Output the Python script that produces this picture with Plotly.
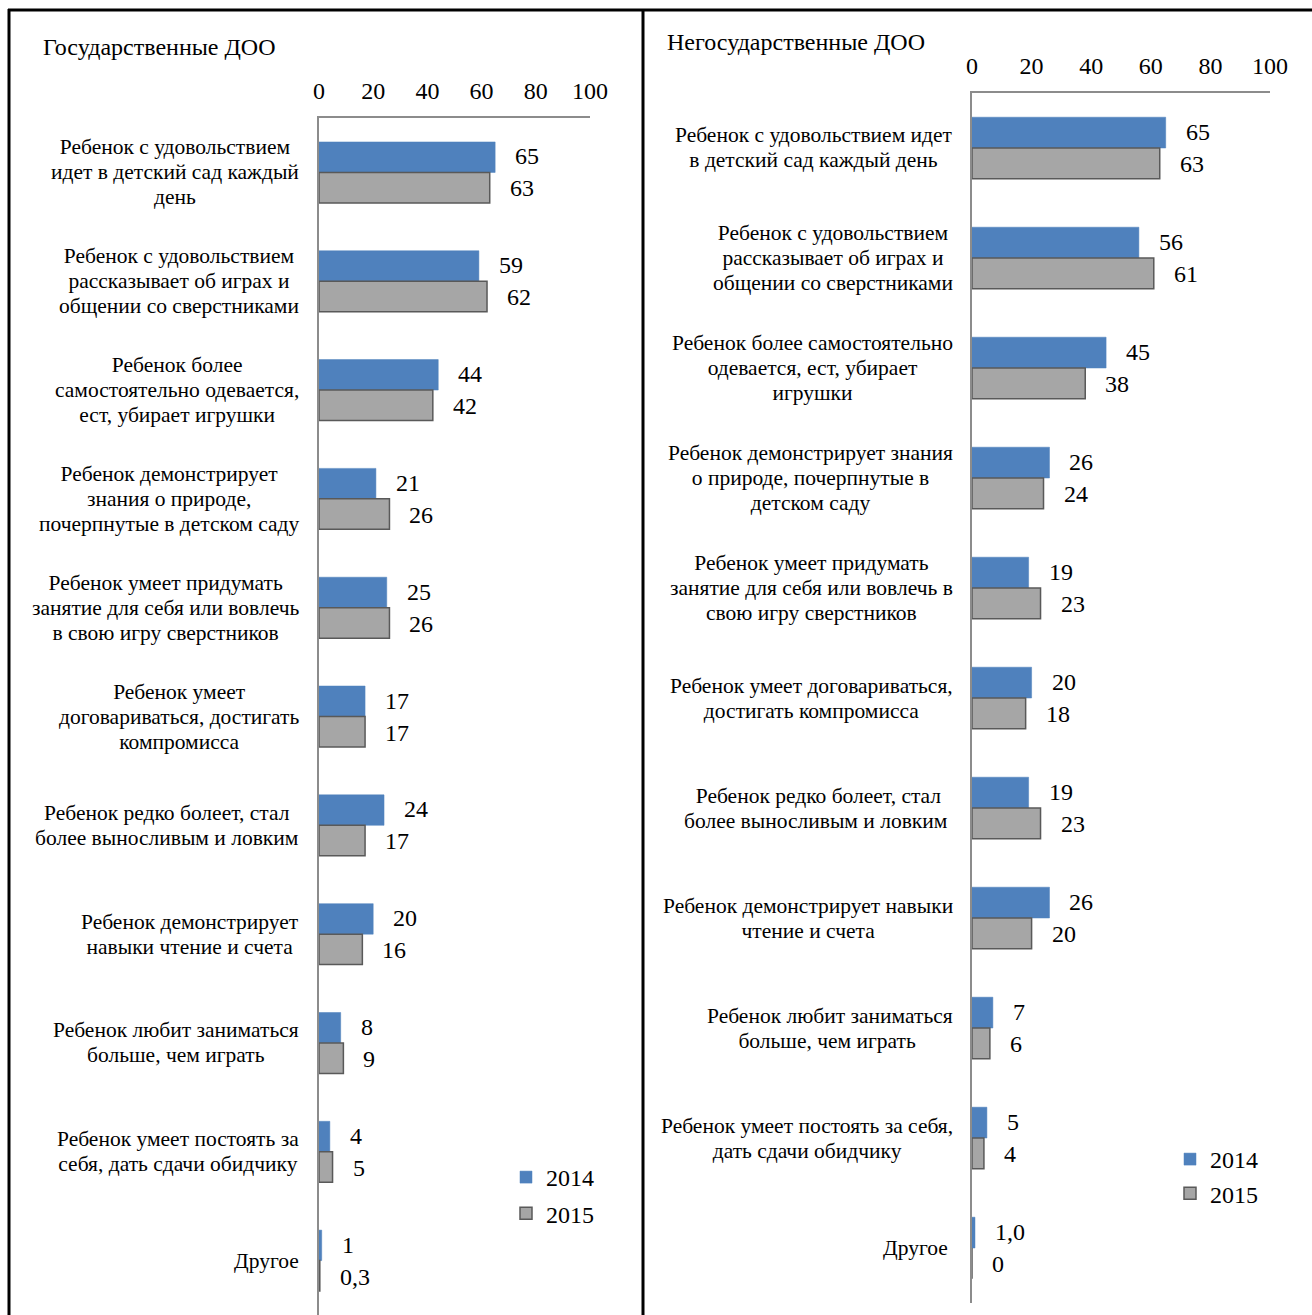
import plotly.graph_objects as go

W, H = 1312, 1315

# ---- data ----
cats_gov = [
    "Ребенок с удовольствием<br>идет в детский сад каждый<br>день",
    "Ребенок с удовольствием<br>рассказывает об играх и<br>общении со сверстниками",
    "Ребенок более<br>самостоятельно одевается,<br>ест, убирает игрушки",
    "Ребенок демонстрирует<br>знания о природе,<br>почерпнутые в детском саду",
    "Ребенок умеет придумать<br>занятие для себя или вовлечь<br>в свою игру сверстников",
    "Ребенок умеет<br>договариваться, достигать<br>компромисса",
    "Ребенок редко болеет, стал<br>более выносливым и ловким",
    "Ребенок демонстрирует<br>навыки чтение и счета",
    "Ребенок любит заниматься<br>больше, чем играть",
    "Ребенок умеет постоять за<br>себя, дать сдачи обидчику",
    "Другое",
]
gov_2014 = [65, 59, 44, 21, 25, 17, 24, 20, 8, 4, 1]
gov_2015 = [63, 62, 42, 26, 26, 17, 17, 16, 9, 5, 0.3]
gov_2014_lbl = ["65", "59", "44", "21", "25", "17", "24", "20", "8", "4", "1"]
gov_2015_lbl = ["63", "62", "42", "26", "26", "17", "17", "16", "9", "5", "0,3"]

cats_priv = [
    "Ребенок с удовольствием идет<br>в детский сад каждый день",
    "Ребенок с удовольствием<br>рассказывает об играх и<br>общении со сверстниками",
    "Ребенок более самостоятельно<br>одевается, ест, убирает<br>игрушки",
    "Ребенок демонстрирует знания<br>о природе, почерпнутые в<br>детском саду",
    "Ребенок умеет придумать<br>занятие для себя или вовлечь в<br>свою игру сверстников",
    "Ребенок умеет договариваться,<br>достигать компромисса",
    "Ребенок редко болеет, стал<br>более выносливым и ловким ",
    "Ребенок демонстрирует навыки<br>чтение и счета",
    "Ребенок любит заниматься<br>больше, чем играть ",
    "Ребенок умеет постоять за себя,<br>дать сдачи обидчику",
    "Другое ",
]
priv_2014 = [65, 56, 45, 26, 19, 20, 19, 26, 7, 5, 1.0]
priv_2015 = [63, 61, 38, 24, 23, 18, 23, 20, 6, 4, 0]
priv_2014_lbl = ["65", "56", "45", "26", "19", "20", "19", "26", "7", "5", "1,0"]
priv_2015_lbl = ["63", "61", "38", "24", "23", "18", "23", "20", "6", "4", "0"]

tick_vals = [0, 20, 40, 60, 80, 100]
series_names = ["2014", "2015"]

BLUE = "#4F81BD"
GRAY = "#A6A6A6"
GRAY_EDGE = "#595959"
AXIS = "#8C8C8C"
FONT = "Liberation Serif"

fig = go.Figure()

def add_panel(cats, v14, v15, xa, ya, legend):
    fig.add_trace(go.Bar(
        y=cats, x=v14, orientation="h", name=series_names[0], legendgroup=legend + "a",
        marker=dict(color=BLUE, line=dict(color=BLUE, width=0.5)),
        xaxis=xa, yaxis=ya, legend=legend, hoverinfo="skip"))
    fig.add_trace(go.Bar(
        y=cats, x=v15, orientation="h", name=series_names[1], legendgroup=legend + "b",
        marker=dict(color=GRAY, line=dict(color=GRAY_EDGE, width=1.5)),
        xaxis=xa, yaxis=ya, legend=legend, hoverinfo="skip"))

add_panel(cats_gov, gov_2014, gov_2015, "x", "y", "legend")
add_panel(cats_priv, priv_2014, priv_2015, "x2", "y2", "legend2")

ann = []

def styled(label):
    # glyphs at 21.5px, line spacing driven by the (smaller) outer font size
    return "<br>".join(f"<span style='font-size:21.5px'>{ln}</span>" for ln in label.split("<br>"))

def label_annots(cats, v14, v15, l14, l15, xref, yref, cat_right_px, dy):
    for c, a, b, la, lb in zip(cats, v14, v15, l14, l15):
        ann.append(dict(x=a, y=c, xref=xref, yref=yref, text=la, showarrow=False,
                        xanchor="left", xshift=18, yshift=dy,
                        font=dict(family=FONT, size=24, color="black")))
        ann.append(dict(x=b, y=c, xref=xref, yref=yref, text=lb, showarrow=False,
                        xanchor="left", xshift=18, yshift=-dy,
                        font=dict(family=FONT, size=24, color="black")))
        ann.append(dict(x=cat_right_px / W, y=c, xref="paper", yref=yref, text=styled(c),
                        showarrow=False, xanchor="right", align="center",
                        font=dict(family=FONT, size=19.3, color="black")))

label_annots(cats_gov, gov_2014, gov_2015, gov_2014_lbl, gov_2015_lbl, "x", "y", 301, 16)
label_annots(cats_priv, priv_2014, priv_2015, priv_2014_lbl, priv_2015_lbl, "x2", "y2", 955, 16)

# titles
ann.append(dict(x=41 / W, y=1 - 47 / H, xref="paper", yref="paper", text="Государственные ДОО",
                showarrow=False, xanchor="left", yanchor="middle",
                font=dict(family=FONT, size=24, color="black")))
ann.append(dict(x=665 / W, y=1 - 42 / H, xref="paper", yref="paper", text="Негосударственные ДОО",
                showarrow=False, xanchor="left", yanchor="middle",
                font=dict(family=FONT, size=24, color="black")))

xaxis_common = dict(range=[0, 100], tickvals=tick_vals, side="top", showline=True,
                    linecolor=AXIS, linewidth=1.5, showgrid=False, zeroline=False,
                    ticks="outside", ticklen=8, tickcolor="rgba(0,0,0,0)",
                    tickfont=dict(family=FONT, size=24, color="black"), fixedrange=True)
yaxis_common = dict(autorange="reversed", showticklabels=False, showline=True,
                    linecolor=AXIS, linewidth=1.5, ticks="", showgrid=False, fixedrange=True)

fig.update_layout(
    autosize=True, height=H,
    margin=dict(l=0, r=0, t=0, b=0, autoexpand=False),
    paper_bgcolor="white", plot_bgcolor="white",
    barmode="group", bargap=0.44, bargroupgap=0.0,
    xaxis=dict(domain=[319 / W, 590 / W], anchor="y", **xaxis_common),
    yaxis=dict(domain=[0, 1 - 118 / H], anchor="x", **yaxis_common),
    xaxis2=dict(domain=[972 / W, 1270 / W], anchor="y2", **xaxis_common),
    yaxis2=dict(domain=[1 - 1303 / H, 1 - 93 / H], anchor="x2", **yaxis_common),
    legend=dict(x=506 / W, y=1 - 1155 / H, xanchor="left", yanchor="top",
                font=dict(family=FONT, size=24, color="black"), itemwidth=30,
                bgcolor="rgba(0,0,0,0)", tracegroupgap=2),
    legend2=dict(x=1170 / W, y=1 - 1137 / H, xanchor="left", yanchor="top",
                 font=dict(family=FONT, size=24, color="black"), itemwidth=30,
                 bgcolor="rgba(0,0,0,0)", tracegroupgap=0),
    annotations=ann,
    shapes=[
        dict(type="line", xref="paper", yref="paper", x0=8 / W, x1=1, y0=1 - 10 / H, y1=1 - 10 / H,
             line=dict(color="black", width=3)),
        dict(type="line", xref="paper", yref="paper", x0=9 / W, x1=9 / W, y0=0, y1=1 - 9 / H,
             line=dict(color="black", width=3)),
        dict(type="line", xref="paper", yref="paper", x0=643 / W, x1=643 / W, y0=0, y1=1 - 9 / H,
             line=dict(color="black", width=3)),
    ],
    font=dict(family=FONT),
)

fig.write_html(
    "out.html",
    config={"displayModeBar": False, "responsive": True},
    default_width="100%",
    default_height=f"{H}px",
    post_script="document.body.style.margin='0';document.body.style.overflow='hidden';"
                "window.dispatchEvent(new Event('resize'));",
)
